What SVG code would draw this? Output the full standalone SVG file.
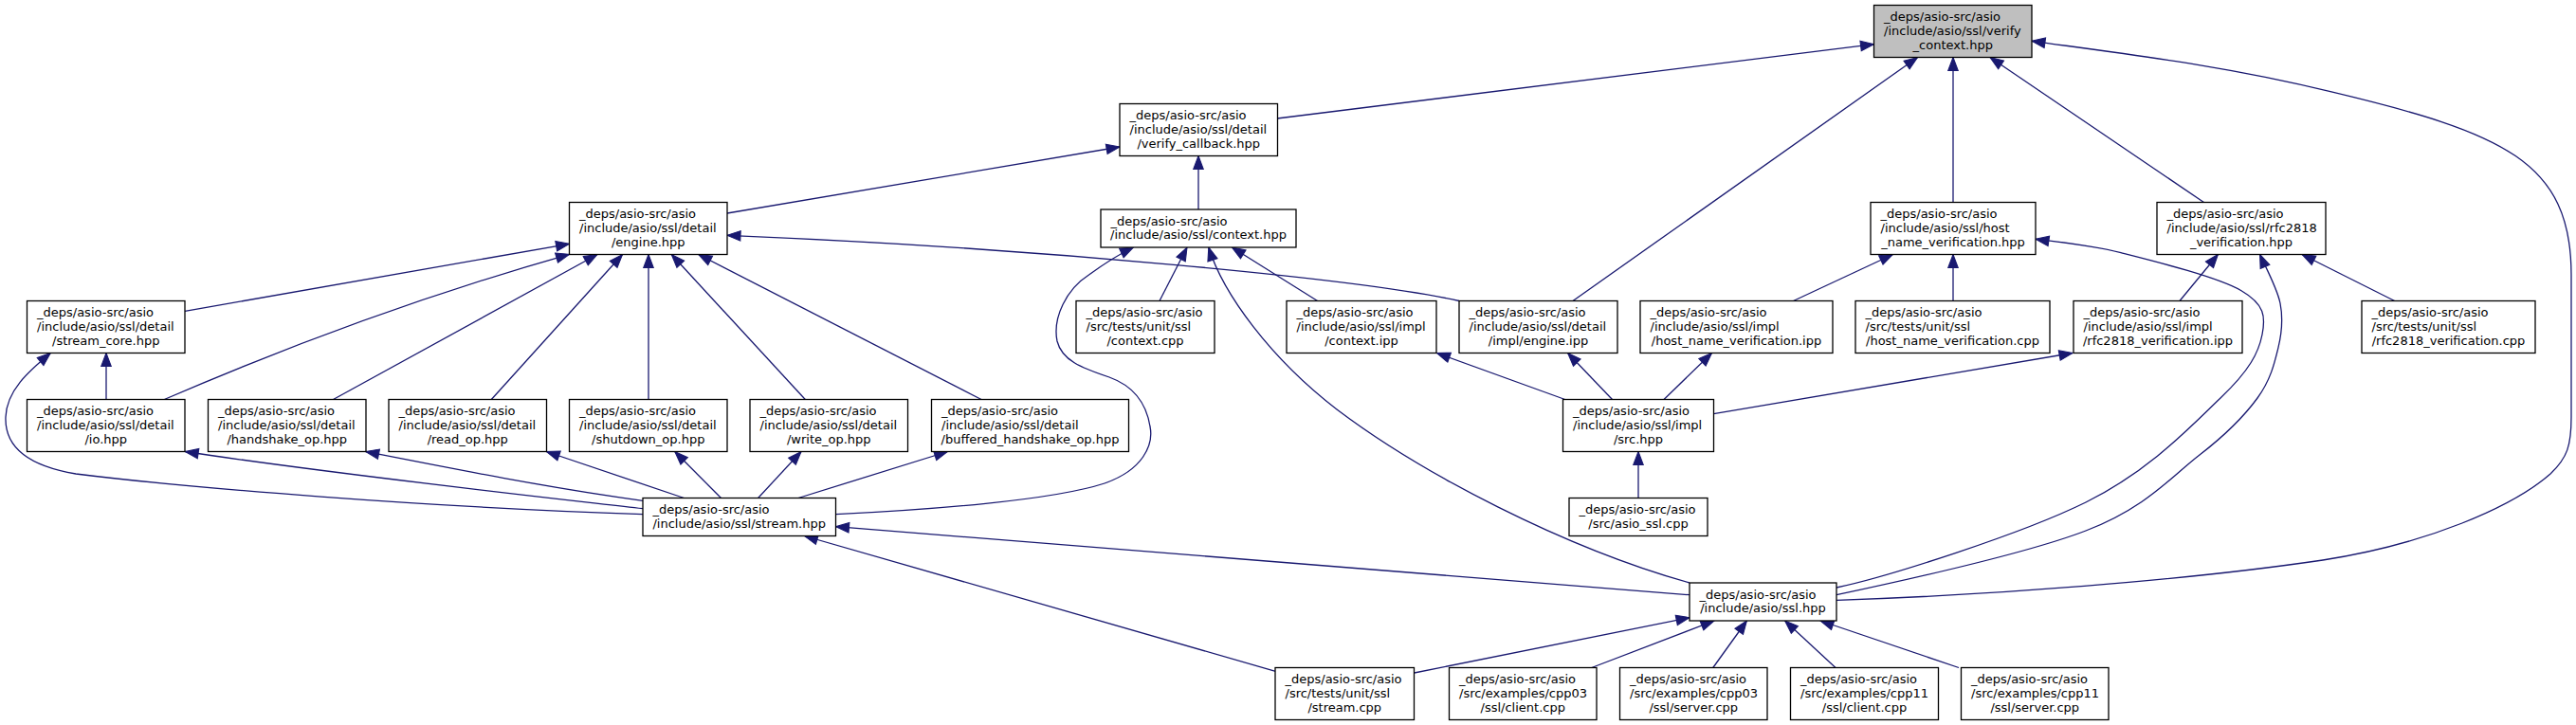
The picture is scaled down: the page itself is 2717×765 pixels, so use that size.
<svg xmlns="http://www.w3.org/2000/svg" width="2717" height="765" viewBox="0 0 2717 765">
<style>
.node rect{fill:#fff;stroke:#000;stroke-width:1.3}
.node rect.focus{fill:#bfbfbf}
.node text{font-family:"DejaVu Sans","Liberation Sans",sans-serif;font-size:13px;fill:#000}
.node text.c{text-anchor:middle}
.edge path{fill:none;stroke:#191970;stroke-width:1.3;marker-end:url(#arr)}
</style>
<defs>
<marker id="arr" markerUnits="userSpaceOnUse" markerWidth="14" markerHeight="11" viewBox="0 0 13.3 10" refX="13.3" refY="5" orient="auto" overflow="visible">
<path d="M0,0 L13.3,5 L0,10 z" fill="#191970" stroke="#191970" stroke-width="1"/>
</marker>
</defs>
<rect width="2717" height="765" fill="#fff"/>
<g id="edges" class="edge">
<path d="M1347,125 L1976.5,46.7"/>
<path d="M1659,317.5 L2022.5,60.5"/>
<path d="M2060,213.5 L2060,60.5"/>
<path d="M2324.5,213.5 L2099,60.5"/>
<path d="M1937,633.3 C2100,628 2300,613 2450,591 C2560,574 2650,535 2690,500 C2708,483 2712,470 2712,440 L2712,290 C2712,170 2640,140 2458,96.7 C2350,70 2250,58 2143,43.3"/>
<path d="M767,225 L1181,155"/>
<path d="M1264,221 L1264,164.5"/>
<path d="M195,328.3 L600.5,257.3"/>
<path d="M173.3,421.5 Q390,328 600.5,268.3"/>
<path d="M351.5,421.5 L630,268.5"/>
<path d="M518.3,421.5 L656.5,268.5"/>
<path d="M684,421.5 L684,268.5"/>
<path d="M849.3,421.5 L708.3,268.5"/>
<path d="M1035,421.5 L736.7,268.5"/>
<path d="M1539,317.5 C1440,295 1100,262 767,248.3"/>
<path d="M1223,317.5 L1252,261"/>
<path d="M1389.6,317.5 L1299.4,261"/>
<path d="M881.5,542.7 C980,538 1110,528 1165,510 C1205,496 1217,470 1213,450 C1209,425 1195,407 1170,398 C1140,388 1120,380 1115,360 C1110,335 1125,305 1148.5,290 C1165,278 1185,266 1195.5,261"/>
<path d="M1782,615 C1650,578 1500,500 1410,432 C1340,378 1290,310 1274.8,261"/>
<path d="M1891.5,317.5 L1996.5,268.5"/>
<path d="M2060,317.5 L2060,268.5"/>
<path d="M1937,620 C1990,609 2132.5,563.3 2200,530 C2267.5,496.7 2311,449.5 2342,420 C2373,390.5 2382.3,371.9 2386,353 C2389.7,334.1 2388.8,321.1 2364,306.7 C2339.2,292.3 2272.9,275.8 2237,266.7 C2201.1,257.6 2163.3,254.7 2147,252.3"/>
<path d="M2299,317.5 L2339.4,268.5"/>
<path d="M2525.7,317.5 L2428,268.5"/>
<path d="M1937,627.7 C1990,616.4 2136.2,584.6 2200,560 C2263.8,535.4 2289.8,503.3 2320,480 C2350.2,456.7 2367.2,438.9 2381,420 C2394.8,401.1 2399,383.4 2403,366.7 C2407,350 2408.2,336.4 2405,320 C2401.8,303.6 2387.2,277.1 2383.6,268.5"/>
<path d="M112,421.5 L112,372.5"/>
<path d="M678,542.7 C450,535 200,515 80,500 C20,490 5,465 6,440 C7,412 30,392 53.3,372.5"/>
<path d="M678,536.7 C550,522 350,500 195.2,476.5"/>
<path d="M678,528.3 C580,515 480,495 385.7,476.5"/>
<path d="M721.5,525.5 L576.3,476.5"/>
<path d="M760.5,525.5 L711.8,476.5"/>
<path d="M799.6,525.5 L845,476.5"/>
<path d="M842,525.5 L999.5,476.5"/>
<path d="M1650.7,421.5 L1515.5,372.5"/>
<path d="M1700.5,421.5 L1653.6,372.5"/>
<path d="M1755,421.5 L1805.5,372.5"/>
<path d="M1807.4,436.7 C1950,412 2100,388 2186,372.5"/>
<path d="M1728,525.5 L1728,476.5"/>
<path d="M1782,627.7 L881.5,555.7"/>
<path d="M1345.3,708.3 L848.4,565.5"/>
<path d="M1491.7,710 L1782,651.7"/>
<path d="M1678.8,704.5 L1808,655"/>
<path d="M1806.8,704.5 L1842.4,655"/>
<path d="M1936,704.5 L1882.6,655"/>
<path d="M2066,704.5 L1920,655"/>
</g>
<g id="n1" class="node"><rect class="focus" x="1976.5" y="5.5" width="166.5" height="55"/><text x="1987" y="22.3">_deps/asio-src/asio</text><text x="1987" y="37">/include/asio/ssl/verify</text><text class="c" x="2059.75" y="51.7">_context.hpp</text></g>
<g id="n2" class="node"><rect x="1181" y="109.5" width="166.5" height="55"/><text x="1191.5" y="126.3">_deps/asio-src/asio</text><text x="1191.5" y="141">/include/asio/ssl/detail</text><text class="c" x="1264.25" y="155.7">/verify_callback.hpp</text></g>
<g id="n3" class="node"><rect x="600.5" y="213.5" width="166.5" height="55"/><text x="611" y="230.3">_deps/asio-src/asio</text><text x="611" y="245">/include/asio/ssl/detail</text><text class="c" x="683.75" y="259.7">/engine.hpp</text></g>
<g id="n4" class="node"><rect x="1161" y="221" width="206" height="40"/><text x="1171.5" y="237.7">_deps/asio-src/asio</text><text class="c" x="1264" y="252.4">/include/asio/ssl/context.hpp</text></g>
<g id="n5" class="node"><rect x="1973" y="213.5" width="174" height="55"/><text x="1983.5" y="230.3">_deps/asio-src/asio</text><text x="1983.5" y="245">/include/asio/ssl/host</text><text class="c" x="2060" y="259.7">_name_verification.hpp</text></g>
<g id="n6" class="node"><rect x="2275" y="213.5" width="178" height="55"/><text x="2285.5" y="230.3">_deps/asio-src/asio</text><text x="2285.5" y="245">/include/asio/ssl/rfc2818</text><text class="c" x="2364" y="259.7">_verification.hpp</text></g>
<g id="n7" class="node"><rect x="28.5" y="317.5" width="166.5" height="55"/><text x="39" y="334.3">_deps/asio-src/asio</text><text x="39" y="349">/include/asio/ssl/detail</text><text class="c" x="111.75" y="363.7">/stream_core.hpp</text></g>
<g id="n8" class="node"><rect x="1135" y="317.5" width="146" height="55"/><text x="1145.5" y="334.3">_deps/asio-src/asio</text><text x="1145.5" y="349">/src/tests/unit/ssl</text><text class="c" x="1208" y="363.7">/context.cpp</text></g>
<g id="n9" class="node"><rect x="1357" y="317.5" width="158" height="55"/><text x="1367.5" y="334.3">_deps/asio-src/asio</text><text x="1367.5" y="349">/include/asio/ssl/impl</text><text class="c" x="1436" y="363.7">/context.ipp</text></g>
<g id="n10" class="node"><rect x="1539" y="317.5" width="167" height="55"/><text x="1549.5" y="334.3">_deps/asio-src/asio</text><text x="1549.5" y="349">/include/asio/ssl/detail</text><text class="c" x="1622.5" y="363.7">/impl/engine.ipp</text></g>
<g id="n11" class="node"><rect x="1730" y="317.5" width="203" height="55"/><text x="1740.5" y="334.3">_deps/asio-src/asio</text><text x="1740.5" y="349">/include/asio/ssl/impl</text><text class="c" x="1831.5" y="363.7">/host_name_verification.ipp</text></g>
<g id="n12" class="node"><rect x="1957" y="317.5" width="205" height="55"/><text x="1967.5" y="334.3">_deps/asio-src/asio</text><text x="1967.5" y="349">/src/tests/unit/ssl</text><text class="c" x="2059.5" y="363.7">/host_name_verification.cpp</text></g>
<g id="n13" class="node"><rect x="2187" y="317.5" width="178" height="55"/><text x="2197.5" y="334.3">_deps/asio-src/asio</text><text x="2197.5" y="349">/include/asio/ssl/impl</text><text class="c" x="2276" y="363.7">/rfc2818_verification.ipp</text></g>
<g id="n14" class="node"><rect x="2491" y="317.5" width="183" height="55"/><text x="2501.5" y="334.3">_deps/asio-src/asio</text><text x="2501.5" y="349">/src/tests/unit/ssl</text><text class="c" x="2582.5" y="363.7">/rfc2818_verification.cpp</text></g>
<g id="n15" class="node"><rect x="28.5" y="421.5" width="166.5" height="55"/><text x="39" y="438.3">_deps/asio-src/asio</text><text x="39" y="453">/include/asio/ssl/detail</text><text class="c" x="111.75" y="467.7">/io.hpp</text></g>
<g id="n16" class="node"><rect x="219.5" y="421.5" width="166.5" height="55"/><text x="230" y="438.3">_deps/asio-src/asio</text><text x="230" y="453">/include/asio/ssl/detail</text><text class="c" x="302.75" y="467.7">/handshake_op.hpp</text></g>
<g id="n17" class="node"><rect x="410" y="421.5" width="166.5" height="55"/><text x="420.5" y="438.3">_deps/asio-src/asio</text><text x="420.5" y="453">/include/asio/ssl/detail</text><text class="c" x="493.25" y="467.7">/read_op.hpp</text></g>
<g id="n18" class="node"><rect x="600.5" y="421.5" width="166.5" height="55"/><text x="611" y="438.3">_deps/asio-src/asio</text><text x="611" y="453">/include/asio/ssl/detail</text><text class="c" x="683.75" y="467.7">/shutdown_op.hpp</text></g>
<g id="n19" class="node"><rect x="791" y="421.5" width="166.5" height="55"/><text x="801.5" y="438.3">_deps/asio-src/asio</text><text x="801.5" y="453">/include/asio/ssl/detail</text><text class="c" x="874.25" y="467.7">/write_op.hpp</text></g>
<g id="n20" class="node"><rect x="982.5" y="421.5" width="208" height="55"/><text x="993" y="438.3">_deps/asio-src/asio</text><text x="993" y="453">/include/asio/ssl/detail</text><text class="c" x="1086.5" y="467.7">/buffered_handshake_op.hpp</text></g>
<g id="n21" class="node"><rect x="1648.5" y="421.5" width="159" height="55"/><text x="1659" y="438.3">_deps/asio-src/asio</text><text x="1659" y="453">/include/asio/ssl/impl</text><text class="c" x="1728" y="467.7">/src.hpp</text></g>
<g id="n22" class="node"><rect x="678" y="525.5" width="203.5" height="40"/><text x="688.5" y="542.2">_deps/asio-src/asio</text><text class="c" x="779.75" y="556.9">/include/asio/ssl/stream.hpp</text></g>
<g id="n23" class="node"><rect x="1655" y="525.5" width="146" height="40"/><text x="1665.5" y="542.2">_deps/asio-src/asio</text><text class="c" x="1728" y="556.9">/src/asio_ssl.cpp</text></g>
<g id="n24" class="node"><rect x="1782" y="615" width="155" height="40"/><text x="1792.5" y="631.7">_deps/asio-src/asio</text><text class="c" x="1859.5" y="646.4">/include/asio/ssl.hpp</text></g>
<g id="n25" class="node"><rect x="1345" y="704.5" width="146.5" height="55"/><text x="1355.5" y="721.3">_deps/asio-src/asio</text><text x="1355.5" y="736">/src/tests/unit/ssl</text><text class="c" x="1418.25" y="750.7">/stream.cpp</text></g>
<g id="n26" class="node"><rect x="1528.5" y="704.5" width="155.5" height="55"/><text x="1539" y="721.3">_deps/asio-src/asio</text><text x="1539" y="736">/src/examples/cpp03</text><text class="c" x="1606.25" y="750.7">/ssl/client.cpp</text></g>
<g id="n27" class="node"><rect x="1708.5" y="704.5" width="155.5" height="55"/><text x="1719" y="721.3">_deps/asio-src/asio</text><text x="1719" y="736">/src/examples/cpp03</text><text class="c" x="1786.25" y="750.7">/ssl/server.cpp</text></g>
<g id="n28" class="node"><rect x="1888.5" y="704.5" width="156" height="55"/><text x="1899" y="721.3">_deps/asio-src/asio</text><text x="1899" y="736">/src/examples/cpp11</text><text class="c" x="1966.5" y="750.7">/ssl/client.cpp</text></g>
<g id="n29" class="node"><rect x="2068.5" y="704.5" width="155.5" height="55"/><text x="2079" y="721.3">_deps/asio-src/asio</text><text x="2079" y="736">/src/examples/cpp11</text><text class="c" x="2146.25" y="750.7">/ssl/server.cpp</text></g>
</svg>
